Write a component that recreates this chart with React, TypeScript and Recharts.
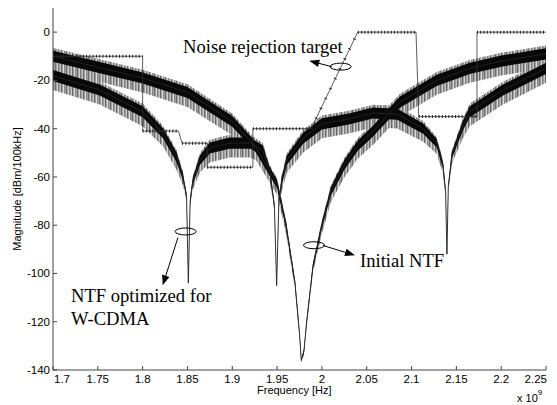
import { ComposedChart, Area, Line, XAxis, YAxis, ReferenceLine, ReferenceDot } from "recharts";

// initial NTF (single notch near 1.977 GHz)
const initFreq = [1.7, 1.75, 1.8, 1.85, 1.9, 1.925, 1.95, 1.96, 1.97, 1.975, 1.977, 1.98, 1.983, 1.99, 2.0, 2.01, 2.025, 2.04, 2.057, 2.087, 2.128, 2.165, 2.2, 2.25];
const initMag = [-10, -14.5, -19, -25, -37, -47, -63, -80, -104, -125, -136, -132, -120, -97, -80, -66, -55, -47, -41, -29, -20, -15, -12, -9];
const initNoise = [2.3, 2.3, 2.3, 2.3, 2.2, 2, 1.7, 1.4, 1, 0.7, 0.4, 0.6, 0.7, 1, 1.4, 1.7, 2, 2.1, 2.2, 2.3, 2.3, 2.3, 2.3, 2.3];

// NTF optimized for W-CDMA (notches at 1.85, 1.95, 2.14 GHz)
const optFreq = [1.7, 1.752, 1.8, 1.823, 1.838, 1.845, 1.849, 1.851, 1.853, 1.856, 1.864, 1.875, 1.897, 1.92, 1.934, 1.942, 1.947, 1.9495, 1.952, 1.955, 1.961, 1.979, 2.0, 2.03, 2.057, 2.084, 2.113, 2.128, 2.135, 2.138, 2.1395, 2.141, 2.145, 2.157, 2.165, 2.202, 2.25];
const optMag = [-18, -24, -33, -42, -52, -60, -68, -104, -70, -61.6, -53, -48, -46, -46, -49, -58, -72, -105, -70, -62, -53, -44, -38, -36, -33.5, -34, -40, -46, -55, -66, -92, -64, -51, -39, -33, -24, -15];
const optNoise = [2.3, 2.3, 2.3, 2.1, 2, 1.4, 0.8, 0.3, 0.8, 1.4, 2, 2.3, 2.3, 2.3, 2.1, 1.7, 0.8, 0.3, 1, 1.7, 2, 2.3, 2.3, 2.3, 2.3, 2.3, 2.1, 1.7, 1.4, 0.8, 0.3, 0.8, 1.4, 2, 2.3, 2.3, 2.3];

// noise rejection target mask
const targetFreq = [1.7, 1.8, 1.8, 1.84, 1.844, 1.872, 1.872, 1.923, 1.923, 1.988, 2.04, 2.105, 2.108, 2.173, 2.173, 2.25];
const targetMag = [-10, -10, -41, -41, -46, -46, -56, -56, -40, -40, 0, 0, -35, -35, 0, 0];

const xTicks = [1.7, 1.75, 1.8, 1.85, 1.9, 1.95, 2.0, 2.05, 2.1, 2.15, 2.2, 2.25];
const xTickLabels = ["1.7", "1.75", "1.8", "1.85", "1.9", "1.95", "2", "2.05", "2.1", "2.15", "2.2", "2.25"];
const yTicks = [-140, -120, -100, -80, -60, -40, -20, 0];

const toBand = (freq: number[], mag: number[], noise: number[]) =>
  freq.map((f, i) => ({
    f,
    v: mag[i],
    core: [mag[i] - noise[i], mag[i] + noise[i]],
    spike: [mag[i] - 2.6 * noise[i], mag[i] + 1.5 * noise[i]],
  }));

const initData = toBand(initFreq, initMag, initNoise);
const optData = toBand(optFreq, optMag, optNoise);
const targetData = targetFreq.map((f, i) => ({ f, m: targetMag[i] }));

// marker overlay: dense on flat parts, sparse on the slope, none on the steps
const flatSegs: { f: number; m: number | null }[] = [];
const slopeSegs: { f: number; m: number | null }[] = [];
for (let i = 0; i < targetFreq.length - 1; i++) {
  if (targetFreq[i + 1] - targetFreq[i] < 0.005) continue;
  const out = targetMag[i] === targetMag[i + 1] ? flatSegs : slopeSegs;
  out.push({ f: targetFreq[i], m: targetMag[i] }, { f: targetFreq[i + 1], m: targetMag[i + 1] }, { f: targetFreq[i + 1], m: null });
}

const AXIS = "#444";
const TICK_FONT = "'Liberation Sans', Arial, sans-serif";
const SERIF = "'Liberation Serif', 'Times New Roman', serif";

const BottomTick = (p: any) => {
  const i = xTicks.indexOf(p.payload.value);
  const last = i === xTicks.length - 1;
  const anchor = i === 0 ? "start" : last ? "end" : "middle";
  const dx = i === 0 ? 1 : last ? 1 : 0;
  return (
    <g>
      <line x1={p.x} y1={p.y} x2={p.x} y2={p.y - 4} stroke={AXIS} />
      <text x={p.x + dx} y={p.y + 13} textAnchor={anchor} fontSize={11.5} fontFamily={TICK_FONT} fill="#000">
        {xTickLabels[i]}
      </text>
    </g>
  );
};
const TopTick = (p: any) => <line x1={p.x} y1={p.y} x2={p.x} y2={p.y + 4} stroke={AXIS} />;
const LeftTick = (p: any) => (
  <g>
    <line x1={p.x} y1={p.y} x2={p.x + 4} y2={p.y} stroke={AXIS} />
    <text x={p.x - 3} y={p.y + 4} textAnchor="end" fontSize={11.5} fontFamily={TICK_FONT} fill="#000">
      {p.payload.value}
    </text>
  </g>
);
const RightTick = (p: any) => <line x1={p.x} y1={p.y} x2={p.x - 4} y2={p.y} stroke={AXIS} />;

const Arrow = (p: any) => {
  const { x1, y1, x2, y2 } = p;
  const a = Math.atan2(y2 - y1, x2 - x1);
  const L = 10;
  const W = 3.8;
  const bx = x2 - L * Math.cos(a);
  const by = y2 - L * Math.sin(a);
  const nx = -Math.sin(a) * W;
  const ny = Math.cos(a) * W;
  return (
    <g>
      <line x1={x1} y1={y1} x2={bx} y2={by} stroke="#000" strokeWidth={1} />
      <polygon points={`${x2},${y2} ${bx + nx},${by + ny} ${bx - nx},${by - ny}`} fill="#000" />
    </g>
  );
};
const Ellipse = (p: any) => <ellipse cx={p.cx} cy={p.cy} rx={10.5} ry={3.5} fill="none" stroke="#000" strokeWidth={1} />;

const label = (text: string, left: number, top: number) => (
  <div style={{ position: "absolute", left, top, fontFamily: SERIF, fontSize: 18.6, lineHeight: 1, whiteSpace: "nowrap", color: "#000" }}>
    {text}
  </div>
);

export default function App() {
  return (
    <div style={{ position: "absolute", left: 0, top: 0, width: 557, height: 405, background: "#fff" }}>
      <ComposedChart width={557} height={405} margin={{ top: 8, right: 11, bottom: 0, left: 0 }}>
        <defs>
          <pattern id="spikes" width="11" height="4" patternUnits="userSpaceOnUse">
            <rect x="0" y="0" width="11" height="4" fill="#a0a0a0" />
            <rect x="0" y="0" width="1" height="4" fill="#6e6e6e" />
            <rect x="2" y="0" width="1" height="4" fill="#d4d4d4" />
            <rect x="3" y="0" width="1" height="4" fill="#7c7c7c" />
            <rect x="5" y="0" width="1" height="4" fill="#c4c4c4" />
            <rect x="6" y="0" width="1" height="4" fill="#666" />
            <rect x="8" y="0" width="1" height="4" fill="#dcdcdc" />
            <rect x="9" y="0" width="1" height="4" fill="#888" />
          </pattern>
        </defs>
        <XAxis
          dataKey="f"
          type="number"
          domain={[1.7, 2.25]}
          ticks={xTicks}
          allowDataOverflow
          height={35}
          tickSize={0}
          tickMargin={0}
          tickLine={false}
          stroke={AXIS}
          tick={BottomTick}
          interval={0}
        />
        <XAxis
          xAxisId="top"
          orientation="top"
          dataKey="f"
          type="number"
          domain={[1.7, 2.25]}
          ticks={xTicks}
          height={0}
          tickSize={0}
          tickMargin={0}
          tickLine={false}
          stroke={AXIS}
          tick={TopTick}
          interval={0}
        />
        <YAxis
          type="number"
          domain={[-140, 10]}
          ticks={yTicks}
          allowDataOverflow
          width={53}
          tickSize={0}
          tickMargin={0}
          tickLine={false}
          stroke={AXIS}
          tick={LeftTick}
          interval={0}
        />
        <YAxis
          yAxisId="right"
          orientation="right"
          type="number"
          domain={[-140, 10]}
          ticks={yTicks}
          width={0}
          tickSize={0}
          tickMargin={0}
          tickLine={false}
          stroke={AXIS}
          tick={RightTick}
          interval={0}
        />

        <Line data={targetData} dataKey="m" type="linear" stroke="#333" strokeWidth={0.8} dot={false} isAnimationActive={false} />
        <Line data={flatSegs} dataKey="m" type="linear" stroke="#222" strokeWidth={3} strokeDasharray="1 2.3" dot={false} isAnimationActive={false} />
        <Line data={slopeSegs} dataKey="m" type="linear" stroke="#222" strokeWidth={3} strokeDasharray="1 10" dot={false} isAnimationActive={false} />

        <Area data={initData} dataKey="spike" type="linear" stroke="none" fill="url(#spikes)" fillOpacity={1} isAnimationActive={false} />
        <Area data={optData} dataKey="spike" type="linear" stroke="none" fill="url(#spikes)" fillOpacity={1} isAnimationActive={false} />
        <Area data={initData} dataKey="core" type="linear" stroke="none" fill="#080808" fillOpacity={1} isAnimationActive={false} />
        <Area data={optData} dataKey="core" type="linear" stroke="none" fill="#080808" fillOpacity={1} isAnimationActive={false} />
        <Line data={initData} dataKey="v" type="linear" stroke="#222" strokeWidth={0.9} dot={false} isAnimationActive={false} />
        <Line data={optData} dataKey="v" type="linear" stroke="#222" strokeWidth={0.9} dot={false} isAnimationActive={false} />

        <ReferenceDot x={2.0209} y={-14.3} shape={Ellipse} />
        <ReferenceDot x={1.9912} y={-88.3} shape={Ellipse} />
        <ReferenceDot x={1.848} y={-82.6} shape={Ellipse} />
        <ReferenceLine segment={[{ x: 2.011, y: -14.3 }, { x: 1.9859, y: -11.9 }]} shape={Arrow} />
        <ReferenceLine segment={[{ x: 2.0012, y: -88.4 }, { x: 2.0369, y: -92.5 }]} shape={Arrow} />
        <ReferenceLine segment={[{ x: 1.8394, y: -85.1 }, { x: 1.8224, y: -104.9 }]} shape={Arrow} />
      </ComposedChart>

      {label("Noise rejection target", 183, 38)}
      {label("Initial NTF", 360, 252)}
      {label("NTF optimized for", 71, 287)}
      {label("W-CDMA", 71, 310)}

      <div style={{ position: "absolute", left: 257, top: 385, fontFamily: TICK_FONT, fontSize: 11, lineHeight: 1, whiteSpace: "nowrap" }}>
        Frequency [Hz]
      </div>
      <div
        style={{
          position: "absolute",
          left: 17,
          top: 189,
          transform: "translate(-50%, -50%) rotate(-90deg)",
          fontFamily: TICK_FONT,
          fontSize: 11,
          whiteSpace: "nowrap",
        }}
      >
        Magnitude [dBm/100kHz]
      </div>
      <div style={{ position: "absolute", left: 517, top: 392, fontFamily: TICK_FONT, fontSize: 11, whiteSpace: "nowrap" }}>
        x 10<span style={{ fontSize: 8, position: "relative", top: -7 }}>9</span>
      </div>
    </div>
  );
}
